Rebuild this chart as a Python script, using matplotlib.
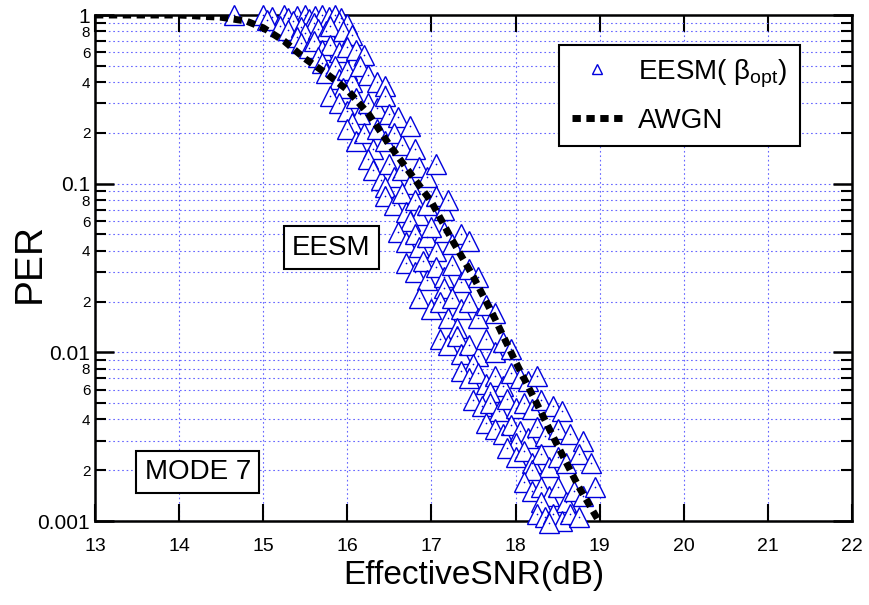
import matplotlib
matplotlib.use('Agg')
import matplotlib.pyplot as plt
from matplotlib.ticker import FixedLocator, FixedFormatter

plt.rcParams['font.family'] = ['Liberation Sans', 'DejaVu Sans']
plt.rcParams['mathtext.fontset'] = 'custom'
plt.rcParams['mathtext.rm'] = 'Liberation Sans'
plt.rcParams['mathtext.it'] = 'Liberation Sans'

# Curva AWGN
awgn_snr = [13.0, 14.0, 14.5, 14.8, 15.0, 15.25, 15.5, 15.75, 16.0, 16.25, 16.5,
            16.75, 17.0, 17.25, 17.5, 17.75, 18.0, 18.25, 18.5, 18.75, 19.0]
awgn_per = [1.0, 1.0, 0.97, 0.92, 0.84, 0.70, 0.55, 0.45, 0.36, 0.26, 0.17,
            0.115, 0.078, 0.046, 0.028, 0.016, 0.0088, 0.0050, 0.0028, 0.0016, 0.00098]

# Puntos EESM (SNR efectiva, PER)
eesm_snr = [
    14.65, 15.0, 15.1, 15.25, 15.3, 15.4, 15.5, 15.55, 15.62, 15.7, 15.78, 15.85, 15.92, 15.05, 15.35, 15.6, 15.9, 16.0,
    15.2, 15.3, 15.45, 15.5, 15.65, 15.75, 15.8, 15.95, 16.05, 15.4,
    15.45, 15.55, 15.6, 15.7, 15.8, 15.9, 16.0, 16.1, 16.2, 15.65,
    15.7, 15.75, 15.85, 15.9, 16.0, 16.05, 16.15, 16.25, 16.35, 15.95, 16.45,
    15.8, 15.9, 16.0, 16.1, 16.15, 16.25, 16.35, 16.45, 16.5, 16.05, 16.6,
    16.0, 16.1, 16.2, 16.3, 16.35, 16.45, 16.55, 16.65, 16.75, 16.8, 16.25,
    16.3, 16.4, 16.5, 16.55, 16.65, 16.75, 16.85, 16.95, 17.05, 16.45,
    16.45, 16.55, 16.65, 16.7, 16.8, 16.85, 16.95, 17.05, 17.15, 17.2, 16.75,
    16.6, 16.7, 16.8, 16.85, 16.95, 17.05, 17.15, 17.25, 17.35, 17.45, 17.0,
    16.7, 16.8, 16.9, 16.95, 17.05, 17.15, 17.25, 17.35, 17.45, 17.55, 17.15,
    16.85, 17.0, 17.1, 17.2, 17.25, 17.35, 17.45, 17.55, 17.65, 17.75, 17.3,
    17.1, 17.2, 17.3, 17.35, 17.45, 17.55, 17.65, 17.75, 17.85, 17.95, 17.5,
    17.35, 17.45, 17.55, 17.65, 17.75, 17.85, 17.95, 18.05, 18.15, 18.25, 17.7,
    17.5, 17.6, 17.7, 17.8, 17.9, 18.0, 18.1, 18.2, 18.3, 18.45, 18.55,
    17.65, 17.75, 17.85, 17.95, 18.05, 18.15, 18.25, 18.35, 18.5, 18.65, 18.8, 18.0,
    17.9, 18.0, 18.1, 18.2, 18.3, 18.4, 18.5, 18.6, 18.75, 18.9, 18.2,
    18.1, 18.2, 18.3, 18.4, 18.5, 18.6, 18.7, 18.8, 18.3, 18.95,
    18.25, 18.35, 18.45, 18.55, 18.65, 18.75, 18.4,
]
eesm_per = [
    1.0, 1.0, 0.97, 1.0, 0.96, 0.99, 1.0, 0.95, 0.98, 1.0, 0.97, 1.0, 0.96, 0.93, 0.92, 0.9, 0.91, 0.88,
    0.86, 0.82, 0.85, 0.78, 0.83, 0.8, 0.86, 0.8, 0.76, 0.74,
    0.68, 0.64, 0.7, 0.62, 0.66, 0.6, 0.65, 0.62, 0.58, 0.56,
    0.52, 0.45, 0.5, 0.42, 0.47, 0.4, 0.5, 0.44, 0.4, 0.37, 0.38,
    0.33, 0.3, 0.27, 0.32, 0.26, 0.3, 0.28, 0.33, 0.26, 0.23, 0.25,
    0.21, 0.18, 0.2, 0.16, 0.21, 0.18, 0.2, 0.17, 0.22, 0.16, 0.14,
    0.12, 0.105, 0.13, 0.11, 0.12, 0.1, 0.125, 0.11, 0.13, 0.095,
    0.085, 0.075, 0.088, 0.068, 0.08, 0.065, 0.075, 0.085, 0.07, 0.08, 0.06,
    0.052, 0.045, 0.05, 0.042, 0.048, 0.04, 0.052, 0.044, 0.05, 0.046, 0.055,
    0.034, 0.03, 0.035, 0.027, 0.032, 0.028, 0.033, 0.026, 0.031, 0.028, 0.024,
    0.021, 0.018, 0.02, 0.016, 0.021, 0.018, 0.02, 0.016, 0.019, 0.017, 0.014,
    0.012, 0.011, 0.0125, 0.0098, 0.011, 0.0095, 0.012, 0.01, 0.0115, 0.0105, 0.0085,
    0.0078, 0.007, 0.0075, 0.0065, 0.0072, 0.0063, 0.0075, 0.007, 0.0068, 0.0072, 0.0058,
    0.0052, 0.0048, 0.005, 0.0045, 0.0053, 0.0047, 0.005, 0.0046, 0.0052, 0.0048, 0.0045,
    0.0038, 0.0035, 0.0033, 0.0037, 0.0034, 0.0031, 0.0036, 0.0032, 0.0035, 0.0033, 0.003, 0.0029,
    0.0027, 0.0024, 0.0026, 0.0022, 0.0025, 0.0021, 0.0024, 0.0022, 0.0025, 0.0022, 0.002,
    0.0017, 0.0015, 0.0016, 0.0014, 0.0016, 0.0013, 0.0015, 0.0014, 0.0013, 0.0016,
    0.0011, 0.00105, 0.0011, 0.001, 0.0011, 0.00105, 0.00098,
]

x_ticks = [13, 14, 15, 16, 17, 18, 19, 20, 21, 22]
y_major = [0.001, 0.01, 0.1, 1]
y_major_labels = ['0.001', '0.01', '0.1', '1']

fig = plt.figure(figsize=(8.69, 6.05), dpi=100)
ax = fig.add_axes([0.1093, 0.1388, 0.8711, 0.8364])

ax.plot(eesm_snr, eesm_per, linestyle='none', marker='^', markersize=15,
        markerfacecolor='white', markeredgecolor='#0000dd', markeredgewidth=1.0,
        clip_on=False, zorder=3, label=r'EESM( $\beta_{\mathrm{opt}}$)')
# puntito central de cada triángulo
ax.plot(eesm_snr, eesm_per, linestyle='none', marker='o', markersize=1.2,
        color='#0000dd', markeredgewidth=0, clip_on=False, zorder=3)
ax.plot(awgn_snr, awgn_per, color='black', linewidth=5,
        linestyle=(0, (1.2, 0.8)), zorder=4, label='AWGN')

ax.set_yscale('log')
ax.set_xlim(13, 22)
ax.set_ylim(0.001, 1)

ax.set_xticks(x_ticks)
ax.set_xticklabels([str(t) for t in x_ticks], fontsize=14)
ax.yaxis.set_major_locator(FixedLocator(y_major))
ax.yaxis.set_major_formatter(FixedFormatter(y_major_labels))
minor_pos = []
minor_lab = []
for dec in [0.001, 0.01, 0.1]:
    for d in range(2, 10):
        minor_pos.append(d * dec)
        minor_lab.append(str(d) if d % 2 == 0 else '')
ax.yaxis.set_minor_locator(FixedLocator(minor_pos))
ax.yaxis.set_minor_formatter(FixedFormatter(minor_lab))
ax.tick_params(axis='y', which='major', labelsize=15, length=14, width=1.8,
               direction='in', right=True)
ax.tick_params(axis='y', which='minor', labelsize=11, length=8, width=1.5,
               direction='in', right=True)
ax.tick_params(axis='x', which='major', length=12, width=1.5, direction='in',
               top=True, pad=12)
ax.tick_params(axis='x', which='minor', bottom=False, top=False)

ax.grid(True, which='major', axis='x', color='#6666ff', linestyle=(0, (1.5, 2.5)), linewidth=0.8)
ax.grid(True, which='both', axis='y', color='#6666ff', linestyle=(0, (1.5, 2.5)), linewidth=0.8)
ax.set_axisbelow(True)
for s in ax.spines.values():
    s.set_linewidth(1.8)

ax.set_xlabel('EffectiveSNR(dB)', fontsize=24, labelpad=4)
ax.set_ylabel('PER', fontsize=28, va='center', ha='center')
ax.yaxis.set_label_coords(-0.086, 0.51)

leg = ax.legend(loc='upper right', bbox_to_anchor=(0.931, 0.941), borderaxespad=0,
                fontsize=20, fancybox=False, edgecolor='black', framealpha=1,
                markerscale=0.5, handlelength=1.8, handletextpad=0.6,
                borderpad=0.45, labelspacing=0.65)
leg.get_frame().set_linewidth(1.5)

box = dict(boxstyle='square,pad=0.3', facecolor='white', edgecolor='black', linewidth=1.5)
ax.text(0.312, 0.54, 'EESM', transform=ax.transAxes, fontsize=20,
        ha='center', va='center', bbox=box, zorder=5)
ax.text(0.136, 0.097, 'MODE 7', transform=ax.transAxes, fontsize=20,
        ha='center', va='center', bbox=box, zorder=5)

fig.savefig('out.png', dpi=100)
